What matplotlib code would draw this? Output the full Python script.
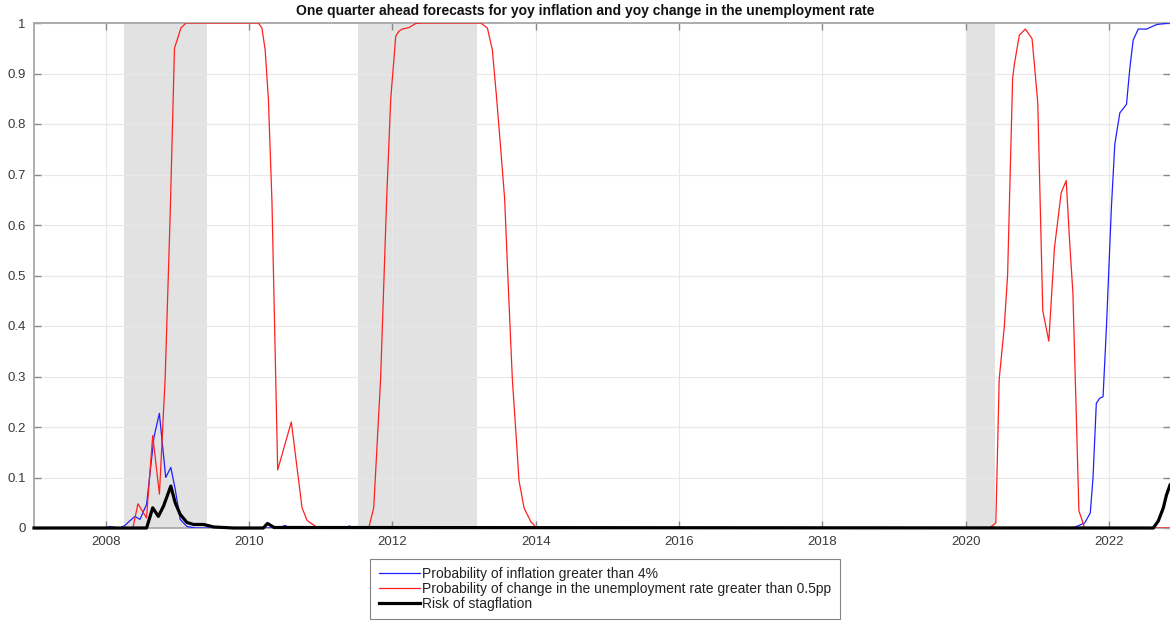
import matplotlib

matplotlib.use("Agg")
import matplotlib.pyplot as plt

# dates in decimal years
infl_t = [2007.0, 2008.0, 2008.056, 2008.197, 2008.267, 2008.407, 2008.478, 2008.571,
          2008.674, 2008.749, 2008.838, 2008.909, 2008.97, 2009.04, 2009.133, 2009.25,
          2010.42, 2010.5, 2010.58, 2011.33, 2011.4, 2011.47, 2021.495, 2021.66,
          2021.738, 2021.776, 2021.822, 2021.869, 2021.916, 2021.963, 2022.033, 2022.08,
          2022.15, 2022.243, 2022.29, 2022.336, 2022.407, 2022.523, 2022.664, 2022.85]
infl_p = [0, 0, 0.003, 0, 0.005, 0.023, 0.017, 0.047,
          0.18, 0.227, 0.1, 0.12, 0.077, 0.017, 0.003, 0,
          0, 0.005, 0, 0, 0.004, 0, 0, 0.01,
          0.03, 0.10, 0.247, 0.257, 0.26, 0.397, 0.637, 0.76,
          0.822, 0.839, 0.911, 0.966, 0.988, 0.988, 0.997, 1.0]

unemp_t = [2007.0, 2008.38, 2008.45, 2008.57, 2008.656, 2008.75, 2008.83, 2008.9,
           2008.96, 2009.05, 2009.12, 2010.13, 2010.18, 2010.225, 2010.27, 2010.32,
           2010.40, 2010.59, 2010.74, 2010.81, 2010.93, 2011.0, 2011.67, 2011.74,
           2011.836, 2011.92, 2011.977, 2012.047, 2012.093, 2012.14, 2012.233, 2012.326,
           2012.42, 2013.233, 2013.326, 2013.395, 2013.456, 2013.512, 2013.567, 2013.62,
           2013.674, 2013.721, 2013.767, 2013.837, 2013.93, 2014.0, 2014.05, 2020.33,
           2020.42, 2020.467, 2020.537, 2020.584, 2020.654, 2020.678, 2020.748, 2020.832,
           2020.925, 2020.958, 2021.005, 2021.075, 2021.159, 2021.238, 2021.332, 2021.402,
           2021.449, 2021.495, 2021.542, 2021.579, 2021.66, 2022.85]
unemp_p = [0, 0, 0.048, 0.02, 0.183, 0.067, 0.297, 0.62,
           0.95, 0.99, 1.0, 1.0, 0.99, 0.947, 0.85, 0.647,
           0.115, 0.21, 0.04, 0.015, 0.003, 0, 0, 0.04,
           0.295, 0.65, 0.849, 0.974, 0.984, 0.988, 0.991, 0.999,
           1.0, 1.0, 0.99, 0.947, 0.849, 0.75, 0.651, 0.47,
           0.295, 0.195, 0.094, 0.04, 0.013, 0.002, 0, 0,
           0.01, 0.295, 0.397, 0.5, 0.89, 0.918, 0.976, 0.988,
           0.969, 0.918, 0.842, 0.43, 0.37, 0.555, 0.664, 0.688,
           0.568, 0.466, 0.226, 0.034, 0, 0]

stag_t = [2007.0, 2008.571, 2008.656, 2008.735, 2008.806, 2008.909, 2008.97, 2009.04,
          2009.133, 2009.227, 2009.368, 2009.508, 2009.789, 2010.2, 2010.258, 2010.35,
          2022.617, 2022.687, 2022.757, 2022.80, 2022.85]
stag_p = [0, 0, 0.04, 0.023, 0.043, 0.083, 0.05, 0.027,
          0.011, 0.007, 0.007, 0.002, 0, 0, 0.009, 0.001,
          0, 0.014, 0.04, 0.065, 0.085]

recessions = [(2008.253, 2009.414), (2011.52, 2013.177), (2020.0, 2020.407)]
xticks = [2008, 2010, 2012, 2014, 2016, 2018, 2020, 2022]
yticks = [0, 0.1, 0.2, 0.3, 0.4, 0.5, 0.6, 0.7, 0.8, 0.9, 1]
labels = [
    "Probability of inflation greater than 4%",
    "Probability of change in the unemployment rate greater than 0.5pp",
    "Risk of stagflation",
]

plt.rcParams["font.family"] = ["Liberation Sans", "DejaVu Sans"]

W, H = 1170, 621
fig = plt.figure(figsize=(W / 100, H / 100), dpi=100)
ax = fig.add_axes([34 / W, 1 - 528 / H, 1 - 34 / W, (528 - 23) / H])

for a, b in recessions:
    ax.axvspan(a, b, color="#e2e2e2", lw=0, zorder=0)

ax.plot(infl_t, infl_p, color="#2020ff", lw=0.9, label=labels[0], zorder=3)
ax.plot(unemp_t, unemp_p, color="#ff2020", lw=0.9, label=labels[1], zorder=3)
ax.plot(stag_t, stag_p, color="black", lw=2.3, label=labels[2], zorder=4, clip_on=False)

ax.set_xlim(2007.0, 2022.85)
ax.set_ylim(0, 1)
ax.set_xticks(xticks)
ax.set_xticklabels([str(x) for x in xticks])
ax.set_yticks(yticks)
ax.set_yticklabels(["0" if v == 0 else ("1" if v == 1 else f"{v:g}") for v in yticks])
ax.grid(True, color="#e8e8e8", lw=0.8, zorder=1)
ax.set_axisbelow(True)
ax.tick_params(direction="in", length=5, width=1, color="#888888",
               labelcolor="#3a3a3a", labelsize=9.5, top=True, right=True, pad=6)
for side in ["left", "top", "bottom"]:
    ax.spines[side].set_color("#a8a8a8")
    ax.spines[side].set_linewidth(1.3)
ax.spines["right"].set_visible(False)

fig.text(0.5, 1 - 11 / H, "One quarter ahead forecasts for yoy inflation and yoy change in the unemployment rate",
         ha="center", va="center", fontsize=10, fontweight="bold", color="#111111")

leg = fig.legend(loc="upper center", bbox_to_anchor=(605 / W, 1 - 559 / H),
                 fontsize=10, frameon=True, fancybox=False, handlelength=3.0,
                 handletextpad=0.15, labelspacing=0.05, borderpad=0.6, borderaxespad=0)
leg.get_frame().set_edgecolor("#666666")
leg.get_frame().set_linewidth(0.8)
for t in leg.get_texts():
    t.set_color("#222222")

fig.savefig("out.png", dpi=100)
